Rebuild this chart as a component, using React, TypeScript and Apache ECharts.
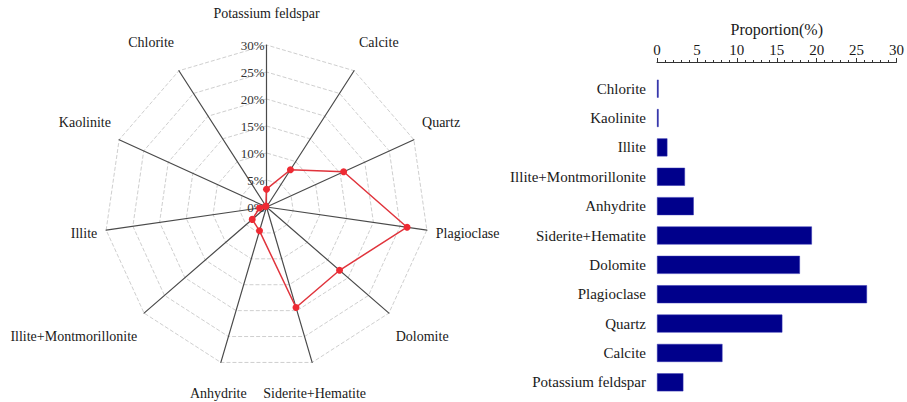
import React, { useEffect, useRef } from "react";
import * as echarts from "echarts";

const minerals = [
  "Potassium feldspar",
  "Calcite",
  "Quartz",
  "Plagioclase",
  "Dolomite",
  "Siderite+Hematite",
  "Anhydrite",
  "Illite+Montmorillonite",
  "Illite",
  "Kaolinite",
  "Chlorite",
];
const proportions = [3.3, 8.2, 15.7, 26.3, 17.9, 19.4, 4.6, 3.5, 1.3, 0.2, 0.2];
const axisMax = 30;
const axisStep = 5;

const FONT = "'Liberation Serif', 'Times New Roman', serif";

export default function App() {
  const ref = useRef<HTMLDivElement>(null);
  useEffect(() => {
    if (!ref.current) return;
    const chart = echarts.init(ref.current, null, { renderer: "svg" });

    const cx = 266.5;
    const cy = 207;
    const R = 162;
    const gapX = 9;
    const gapY = 25;

    // radar indicators go counter-clockwise in ECharts; reorder so they read clockwise
    const order = [0, ...minerals.map((_, i) => i).slice(1).reverse()];
    const indicator = order.map((i, k) => ({
      name: minerals[i],
      min: 0,
      max: axisMax,
      ...(k === 0
        ? {
            axisLabel: {
              show: true,
              formatter: (v: number) => `${v}%`,
              color: "#333",
              fontFamily: FONT,
              fontSize: 13,
              margin: 2,
            },
          }
        : {}),
    }));
    const radarValues = order.map((i) => proportions[i]);

    // indicator names, placed outside each axis end (clockwise from top)
    const n = minerals.length;
    const nameTexts = minerals.map((name, k) => {
      const th = (k * 2 * Math.PI) / n;
      const dx = Math.sin(th);
      const dy = -Math.cos(th);
      const x = cx + (R + gapX) * dx;
      const y = cy + (R + gapY) * dy;
      const align = Math.abs(dx) < 0.3 ? "center" : dx > 0 ? "left" : "right";
      const verticalAlign = Math.abs(dy) < 0.3 ? "middle" : dy > 0 ? "top" : "bottom";
      return {
        type: "text",
        x,
        y,
        silent: true,
        style: {
          text: name,
          fill: "#1a1a1a",
          font: `14px ${FONT}`,
          align,
          verticalAlign,
          textAlign: align,
          textVerticalAlign: verticalAlign,
        },
      };
    });

    chart.setOption({
      animation: false,
      backgroundColor: "#fff",
      textStyle: { fontFamily: FONT },
      radar: {
        center: [cx, cy],
        radius: R,
        startAngle: 90,
        shape: "polygon",
        splitNumber: axisMax / axisStep,
        axisName: { show: false },
        axisLine: { lineStyle: { color: "#4a4a4a", width: 1.2 } },
        splitLine: { lineStyle: { color: "#cfcfcf", type: "dashed", width: 1 } },
        splitArea: { show: false },
        axisTick: { show: false },
        axisLabel: { show: false },
        indicator,
      },
      graphic: nameTexts,
      grid: { left: 657, right: 6, top: 74, bottom: 5 },
      xAxis: {
        type: "value",
        position: "top",
        min: 0,
        max: axisMax,
        interval: axisStep,
        offset: 12,
        name: "Proportion(%)",
        nameLocation: "middle",
        nameGap: 24,
        nameTextStyle: { color: "#1a1a1a", fontFamily: FONT, fontSize: 16 },
        axisLine: { show: true, lineStyle: { color: "#333" } },
        axisTick: { show: true, length: 4, inside: false, lineStyle: { color: "#333" } },
        minorTick: { show: true, splitNumber: 5, length: 2, lineStyle: { color: "#333" } },
        axisLabel: { color: "#1a1a1a", fontFamily: FONT, fontSize: 15, margin: 5 },
        splitLine: { show: false },
      },
      yAxis: {
        type: "category",
        data: minerals,
        axisLine: { show: false },
        axisTick: { show: false },
        axisLabel: { color: "#1a1a1a", fontFamily: FONT, fontSize: 15, margin: 11 },
      },
      series: [
        {
          type: "radar",
          symbol: "circle",
          symbolSize: 7,
          lineStyle: { color: "#e0343c", width: 1.5 },
          itemStyle: { color: "#ee2a33" },
          data: [{ value: radarValues }],
        },
        {
          type: "bar",
          data: proportions,
          barWidth: 18,
          itemStyle: { color: "#00008b", borderColor: "#3333b0", borderWidth: 0.5 },
        },
      ],
    });
    return () => chart.dispose();
  }, []);
  return (
    <div
      ref={ref}
      style={{ position: "absolute", left: 0, top: 0, width: 907, height: 402 }}
    />
  );
}
